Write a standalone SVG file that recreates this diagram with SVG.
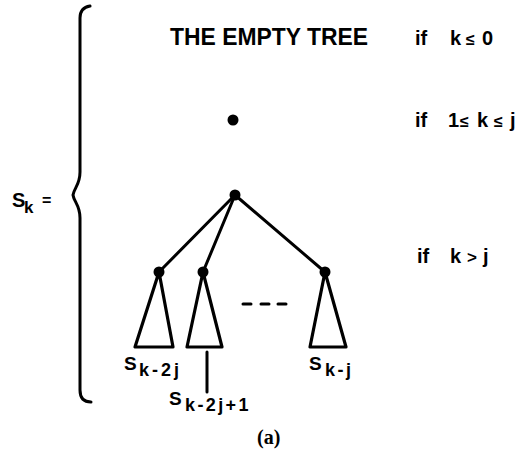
<svg xmlns="http://www.w3.org/2000/svg" width="530" height="460" viewBox="0 0 530 460">
<defs>
<style>
.t{font-family:"Liberation Sans",Arial,sans-serif;font-weight:bold;fill:#000}
.ln{stroke:#000;stroke-width:3;fill:none;stroke-linecap:round;stroke-linejoin:round}
.tri{stroke:#000;stroke-width:3.2;fill:#fff;stroke-linejoin:round}
.dot{fill:#000}
</style>
</defs>
<rect width="530" height="460" fill="#fff"/>
<g id="brace">
<path class="ln" stroke-width="2.6" d="M90,6 C84,7 80,11 80,18 L80,172 C80,185 74,188 73,195 C74,202 80,205 80,218 L80,390 C80,398 84,402 91,402"/>
</g>
<g id="lhs">
<text class="t" x="12" y="207" font-size="20">S</text>
<text class="t" x="24" y="213" font-size="17">k</text>
<text class="t" x="42" y="206" font-size="16">=</text>
</g>
<g id="case1">
<text class="t" x="170" y="45" font-size="23" textLength="198" lengthAdjust="spacingAndGlyphs">THE EMPTY TREE</text>
<text class="t" font-size="20" y="45"><tspan x="415">if</tspan><tspan x="450">k</tspan><tspan x="466" font-size="16">≤</tspan><tspan x="482">0</tspan></text>
</g>
<g id="case2">
<circle id="single" class="dot" cx="233" cy="120" r="5.5"/>
<text class="t" font-size="20" y="127"><tspan x="415">if</tspan><tspan x="448">1</tspan><tspan x="460" font-size="16">≤</tspan><tspan x="477">k</tspan><tspan x="494" font-size="16">≤</tspan><tspan x="510">j</tspan></text>
</g>
<g id="case3-label">
<text class="t" font-size="20" y="263"><tspan x="417">if</tspan><tspan x="450">k</tspan><tspan x="467" font-size="17">&gt;</tspan><tspan x="483">j</tspan></text>
</g>
<g id="connectors">
<line class="ln" x1="235" y1="195" x2="159" y2="272"/>
<line class="ln" x1="235" y1="195" x2="203" y2="272"/>
<line class="ln" x1="235" y1="195" x2="325" y2="272"/>
<line class="ln" stroke-width="2" x1="207" y1="352" x2="207" y2="392"/>
<path class="ln" stroke-width="2.5" d="M243,304 H251 M261,304 H269 M278,304 H286"/>
</g>
<g id="root">
<circle class="dot" cx="235" cy="195" r="5.5"/>
</g>
<g id="sub1">
<polygon class="tri" points="159,272 135,347 173,347"/>
<circle class="dot" cx="159" cy="272" r="5.5"/>
<text class="t" x="124" y="370" font-size="19">S</text>
<text class="t" x="139" y="376" font-size="18" letter-spacing="3">k-2j</text>
</g>
<g id="sub2">
<polygon class="tri" points="203,272 187,347 222,347"/>
<circle class="dot" cx="203" cy="272" r="5.5"/>
<text class="t" x="169" y="405" font-size="19">S</text>
<text class="t" x="185" y="411" font-size="18" letter-spacing="2.4">k-2j+1</text>
</g>
<g id="sub3">
<polygon class="tri" points="325,272 310,347 346,347"/>
<circle class="dot" cx="325" cy="272" r="5.5"/>
<text class="t" x="309" y="370" font-size="19">S</text>
<text class="t" x="325" y="376" font-size="18" letter-spacing="2.5">k-j</text>
</g>
<g id="caption">
<text x="257" y="444" font-family="Liberation Serif,'Times New Roman',serif" font-weight="bold" font-size="20">(a)</text>
</g>
</svg>
